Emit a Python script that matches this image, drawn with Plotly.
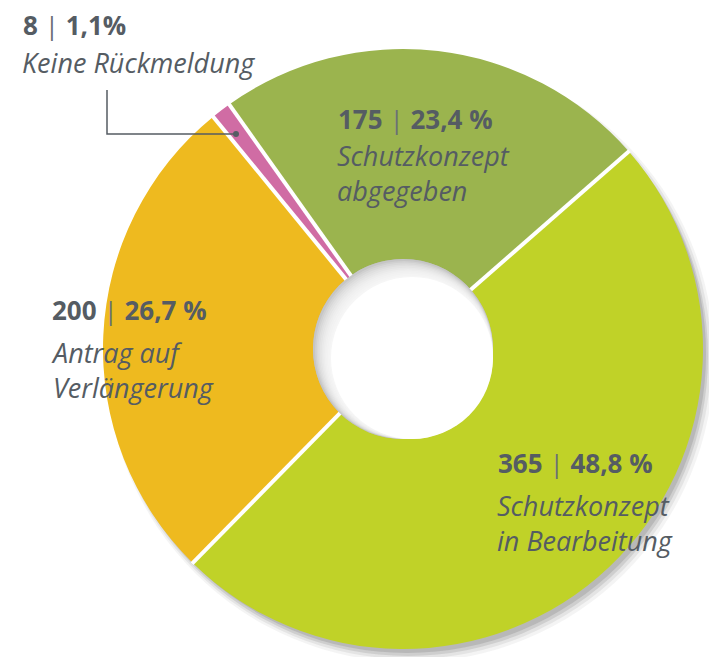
import math
import plotly.graph_objects as go

W, H = 709, 657

# ---- data ----
categories = ["Schutzkonzept abgegeben", "Schutzkonzept in Bearbeitung",
              "Antrag auf Verlängerung", "Keine Rückmeldung"]
counts = [175, 365, 200, 8]
percent_labels = ["23,4 %", "48,8 %", "26,7 %", "1,1%"]
label_lines = ["Schutzkonzept<br>abgegeben", "Schutzkonzept<br>in Bearbeitung",
               "Antrag auf<br>Verlängerung", "Keine Rückmeldung"]
colors = ["#9bb44e", "#c0d228", "#eeba1f", "#d06ca4"]

TXT = "#555c63"
FONT = "Open Sans"

# geometry (pixels)
cx, cy, R = 403, 349, 300
hole = 0.3
ROT = -35.4


def px(x):
    return x / W


def py(y):
    return 1 - y / H


fig = go.Figure()
fig.add_trace(go.Pie(
    labels=categories, values=counts, sort=False, direction="clockwise",
    rotation=ROT, hole=hole,
    marker=dict(colors=colors, line=dict(width=0)),
    textinfo="none", hoverinfo="label+value+percent", showlegend=False,
    domain=dict(x=[px(cx - R), px(cx + R)], y=[py(cy + R), py(cy - R)]),
))

shapes = []
# outer drop shadow (below the pie)
for dx, dy, dr, op in [(7, 9, 4, 0.08), (6, 8, 2, 0.13), (5, 7, 0, 0.2), (4, 5, -1, 0.25)]:
    r = R + dr
    shapes.append(dict(type="circle", xref="paper", yref="paper", layer="below",
                       x0=px(cx + dx - r), x1=px(cx + dx + r),
                       y0=py(cy + dy + r), y1=py(cy + dy - r),
                       fillcolor=f"rgba(120,120,120,{op})", line=dict(width=0)))

# white separators between slices (angles derived from the data)
rh = R * hole
total = sum(counts)
acc = 0
for v in counts:
    ang = math.radians(ROT + 360 * acc / total)
    acc += v
    s, c = math.sin(ang), math.cos(ang)
    shapes.append(dict(type="line", xref="paper", yref="paper", layer="above",
                       x0=px(cx + (rh - 5) * s), y0=py(cy - (rh - 5) * c),
                       x1=px(cx + (R + 1) * s), y1=py(cy - (R + 1) * c),
                       line=dict(color="white", width=4)))

# inner hole shadow
shapes.append(dict(type="circle", xref="paper", yref="paper", layer="above",
                   x0=px(cx - rh), x1=px(cx + rh), y0=py(cy + rh), y1=py(cy - rh),
                   fillcolor="#c6c6c6", line=dict(width=0)))
steps = 10
for i in range(steps + 1):
    t = i / steps
    off = 1 + 8 * t
    r = rh - 1 - 8 * t
    op = 0.18 if i < steps else 1.0
    shapes.append(dict(type="circle", xref="paper", yref="paper", layer="above",
                       x0=px(cx + off - r), x1=px(cx + off + r),
                       y0=py(cy + off + r), y1=py(cy + off - r),
                       fillcolor=f"rgba(255,255,255,{op})", line=dict(width=0)))

# leader line for "Keine Rückmeldung"
shapes.append(dict(type="path", xref="paper", yref="paper",
                   path=f"M {px(107)},{py(90)} L {px(107)},{py(134)} L {px(236)},{py(134)}",
                   line=dict(color=TXT, width=1.5)))
shapes.append(dict(type="circle", xref="paper", yref="paper",
                   x0=px(233), x1=px(239), y0=py(137), y1=py(131),
                   fillcolor=TXT, line=dict(width=0)))

# label positions (pixels): x left, y centre of header, y centre of label block
label_pos = [(338, 119, 173), (498, 463, 523), (52, 310, 370), (23, 25, 63)]

annotations = []
for n, pct, lab, (lx, hy, ly) in zip(counts, percent_labels, label_lines, label_pos):
    annotations.append(dict(
        x=px(lx - 2), y=py(hy), xref="paper", yref="paper", xanchor="left", yanchor="middle",
        text=f"<b>{n}</b> <span style='color:#6a7076'>|</span> <b>{pct}</b>",
        showarrow=False, align="left", font=dict(family=FONT, size=26, color=TXT)))
    annotations.append(dict(
        x=px(lx - 3), y=py(ly), xref="paper", yref="paper", xanchor="left", yanchor="middle",
        text=lab, showarrow=False, align="left",
        font=dict(family=FONT, size=27, color=TXT, style="italic")))

fig.update_layout(width=W, height=H, margin=dict(l=0, r=0, t=0, b=0),
                  paper_bgcolor="white", plot_bgcolor="white",
                  shapes=shapes, annotations=annotations)

fig.write_html("out.html", config={"displayModeBar": False},
               post_script="document.body.style.margin='0';document.body.style.overflow='hidden';")
